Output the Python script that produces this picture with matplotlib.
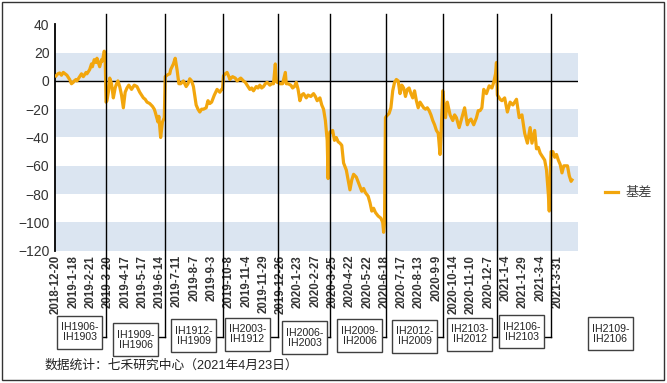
import matplotlib
matplotlib.use('Agg')
import matplotlib.pyplot as plt
from matplotlib.patches import Rectangle
from matplotlib.lines import Line2D
from matplotlib.transforms import blended_transform_factory

plt.rcParams['font.family'] = ['Liberation Sans', 'Noto Sans CJK SC', 'DejaVu Sans']

# trading day number (0 = 2018-12-20) and IH basis
day_idx = [0, 2, 4, 6, 8, 10, 12, 14, 15, 17, 19, 20, 22, 23, 25, 26, 28, 30, 31, 33,
           34, 36, 37, 39, 40, 42, 44, 45, 47, 48, 50, 51, 53, 54,
           55, 56, 58, 59, 61, 63, 65, 66, 68, 70, 72, 74, 76, 78, 80, 81, 83, 86, 89,
           92, 94, 96, 98, 100, 103, 106, 108, 109, 112, 113, 115, 117, 119,
           120, 123, 125, 126, 129, 131, 133, 135, 137, 140, 143, 145, 147, 149, 151,
           154, 156, 158, 160, 162, 165, 167, 169, 171, 174, 177, 180, 182, 183,
           184, 186, 188, 190, 191, 194, 197, 199, 201, 203, 206, 208, 211, 213, 215,
           217, 220, 222, 224, 226, 228, 230, 232, 235, 237, 239, 241, 242, 243,
           244, 246, 249, 252, 253, 255, 258, 260, 262, 264, 266, 268, 270, 272, 275,
           277, 280, 283, 285, 287, 290, 292, 294, 296, 298, 299, 300, 301,
           302, 304, 306, 308, 310, 312, 314, 316, 319, 321, 323, 325, 327, 330, 333,
           336, 338, 340, 343, 345, 347, 349, 351, 354, 357, 359, 360, 361,
           362, 363, 366, 368, 370, 372, 374, 376, 378, 380, 382, 384, 386, 388, 390,
           392, 394, 396, 398, 400, 402, 404, 406, 408, 410, 412, 414, 416, 418, 420,
           422, 423,
           425, 426, 428, 430, 433, 436, 438, 440, 443, 446, 449, 452, 454, 456, 459,
           462, 464, 466, 468, 470, 472, 473, 476, 479, 481, 483, 484,
           485, 488, 490, 493, 496, 499, 502, 505, 506, 509, 512, 515, 518, 521, 523,
           526, 528, 530, 532, 535, 537, 539, 541, 542, 543,
           544, 546, 548, 550, 552, 554, 556, 558, 560, 562, 564, 566, 567]
basis = [3.5, 5, 5.6, 4, 6, 5, 4, 2, 1, -2, -1, 0, 1, 0, 2, 3, 5, 3, 4, 6,
         5, 7, 8, 12, 10, 15, 13, 16, 12, 10, 15, 14, 21, 18,
         -15, -14, -6, 2, -2, -12, -5, -3, 0, -4, -10, -19, -8, -5, -3, -4, -6, -3, -4,
         -8, -10, -12, -13, -15, -16, -18, -20, -22, -29, -25, -40, -29, -26,
         3, 4.5, 5, 8, 12, 16, 8, -2, -2, 0, -4, -2, 1.5, 0, -4,
         -17, -20, -22, -20, -20, -19, -14, -16, -15, -10, -6, -8, -6, -6,
         3.5, 5, 6, 3, 1, 3, 2, 0, 1, 2, 0, -1, -4, -6, -5,
         -7, -4, -5, -3, -5, -4, -2, -1, -3, -2, -2, 12, 0, -1,
         -1, -2, -2, 6, -2, -2, -3, -5, -4, -1, -6, -14, -10, -9, -12,
         -10, -11, -9, -11, -14, -12, -17, -20, -28, -42, -69, -40, -36,
         -36, -35, -42, -40, -43, -44, -45.5, -58, -63, -70, -77, -70, -66, -68, -73,
         -78, -76, -79, -81.5, -86, -92, -90, -93, -95.5, -97, -100, -107, -100,
         -26, -25, -23, -19, -7, -1, 1, 0, -9, -3, -5, -11, -6, -5, -9,
         -12, -7, -14, -19, -15, -17, -19, -20, -19, -21, -24, -28, -31, -35, -37,
         -52, -40,
         -7, -14, -26, -15, -24, -28, -24, -26, -33, -26, -19, -31, -28, -27, -31,
         -26, -21, -21, -19, -6, -8, -9, -3.5, -5, -1, 5, 13,
         -10, -13, -14, -12, -22, -15, -17, -14, -13, -26, -24, -37, -44, -33, -44,
         -35, -48, -47, -51, -54, -56, -63, -80, -92, -70,
         -50, -50, -54, -52, -56, -59, -65, -60, -60, -60, -67, -71, -70]

tick_labels = ['2018-12-20', '2019-1-18', '2019-2-21', '2019-3-20', '2019-4-17',
               '2019-5-17', '2019-6-14', '2019-7-11', '2019-8-7', '2019-9-3',
               '2019-10-8', '2019-11-4', '2019-11-29', '2019-12-26', '2020-1-23',
               '2020-2-27', '2020-3-25', '2020-4-22', '2020-5-22', '2020-6-18',
               '2020-7-17', '2020-8-13', '2020-9-9', '2020-10-14', '2020-11-10',
               '2020-12-7', '2021-1-4', '2021-1-29', '2021-3-4', '2021-3-31']
tick_step = 19  # trading days between date labels

# contract expiry days (trading day number) and the spread that follows
expiry_idx = [54, 119, 183, 243, 301, 362, 425, 484, 543]
spreads = ['IH1906-\nIH1903', 'IH1909-\nIH1906', 'IH1912-\nIH1909', 'IH2003-\nIH1912',
           'IH2006-\nIH2003', 'IH2009-\nIH2006', 'IH2012-\nIH2009', 'IH2103-\nIH2012',
           'IH2106-\nIH2103', 'IH2109-\nIH2106']

W, H = 667, 383
orange = '#F2A60D'
band = '#DBE5F1'

fig = plt.figure(figsize=(W / 100, H / 100), dpi=100)


def fx(x):
    return x / W


def fy(y):
    return 1 - y / H


ax = fig.add_axes([fx(55), fy(250.7), fx(578) - fx(55), fy(24.3) - fy(250.7)])
ax.set_xlim(-1.1, 573.6)
ax.set_ylim(-120, 40)

for lo in (0, -40, -80, -120):
    ax.axhspan(lo, lo + 20, color=band, lw=0, zorder=0)
ax.axhline(0, color='black', lw=1, zorder=1)

ax.plot(day_idx, basis, color=orange, lw=2.3, zorder=3, label='基差',
        solid_joinstyle='round')

ax.set_yticks(range(-120, 41, 20))
ax.set_xticks([i * tick_step for i in range(len(tick_labels))])
ax.set_xticklabels(tick_labels, rotation=90, fontsize=8.3, fontweight='bold',
                   color='#333333')
ax.tick_params(axis='y', length=0, pad=4, labelsize=10, labelcolor='#333333')
ax.tick_params(axis='x', length=0, pad=3)
for s in ('top', 'right', 'bottom'):
    ax.spines[s].set_visible(False)
ax.spines['left'].set_color('black')
ax.spines['left'].set_linewidth(1.3)

# expiry lines running down to the spread boxes
blend = blended_transform_factory(ax.transData, fig.transFigure)
box_left = [57, 113, 171, 225, 282, 337, 392, 447, 499, 588]
box_top = [316, 323, 319, 318, 321, 319, 320, 318, 315, 317]
box_w, box_h = 45, 33
leg_y = 337
for i, name in enumerate(spreads):
    l, t = box_left[i], box_top[i]
    fig.add_artist(Rectangle((fx(l), fy(t + box_h)), fx(box_w), box_h / H,
                             transform=fig.transFigure, facecolor='white',
                             edgecolor='#404040', lw=1, zorder=5))
    fig.text(fx(l + box_w / 2), fy(t + box_h / 2), name, ha='center', va='center',
             fontsize=7.6, color='#222222', linespacing=1.0, zorder=6)
    if i < len(expiry_idx):
        e = expiry_idx[i] + 0.5
        ax.plot([e, e], [fy(14), fy(leg_y)], transform=blend, color='black',
                lw=1, clip_on=False, zorder=4)
        xfig = fig.transFigure.inverted().transform(ax.transData.transform((e, 0)))[0]
        fig.add_artist(Line2D([xfig, fx(l + box_w)], [fy(leg_y), fy(leg_y)],
                              transform=fig.transFigure, color='black', lw=1))

handle = Line2D([], [], color=orange, lw=2.3)
fig.legend([handle], ['基差'], loc='center left', bbox_to_anchor=(fx(593), fy(193)),
           frameon=False, fontsize=9.5, handlelength=1.0, handletextpad=0.55,
           labelcolor='#404040')

fig.text(fx(45), fy(366), '数据统计：七禾研究中心（2021年4月23日）', fontsize=9.2,
         va='center', ha='left', color='#222222')

fig.add_artist(Rectangle((fx(2), fy(380)), fx(662), 378 / H, fill=False,
                         edgecolor='#333333', lw=1, transform=fig.transFigure))

fig.savefig('out.png', dpi=100)
